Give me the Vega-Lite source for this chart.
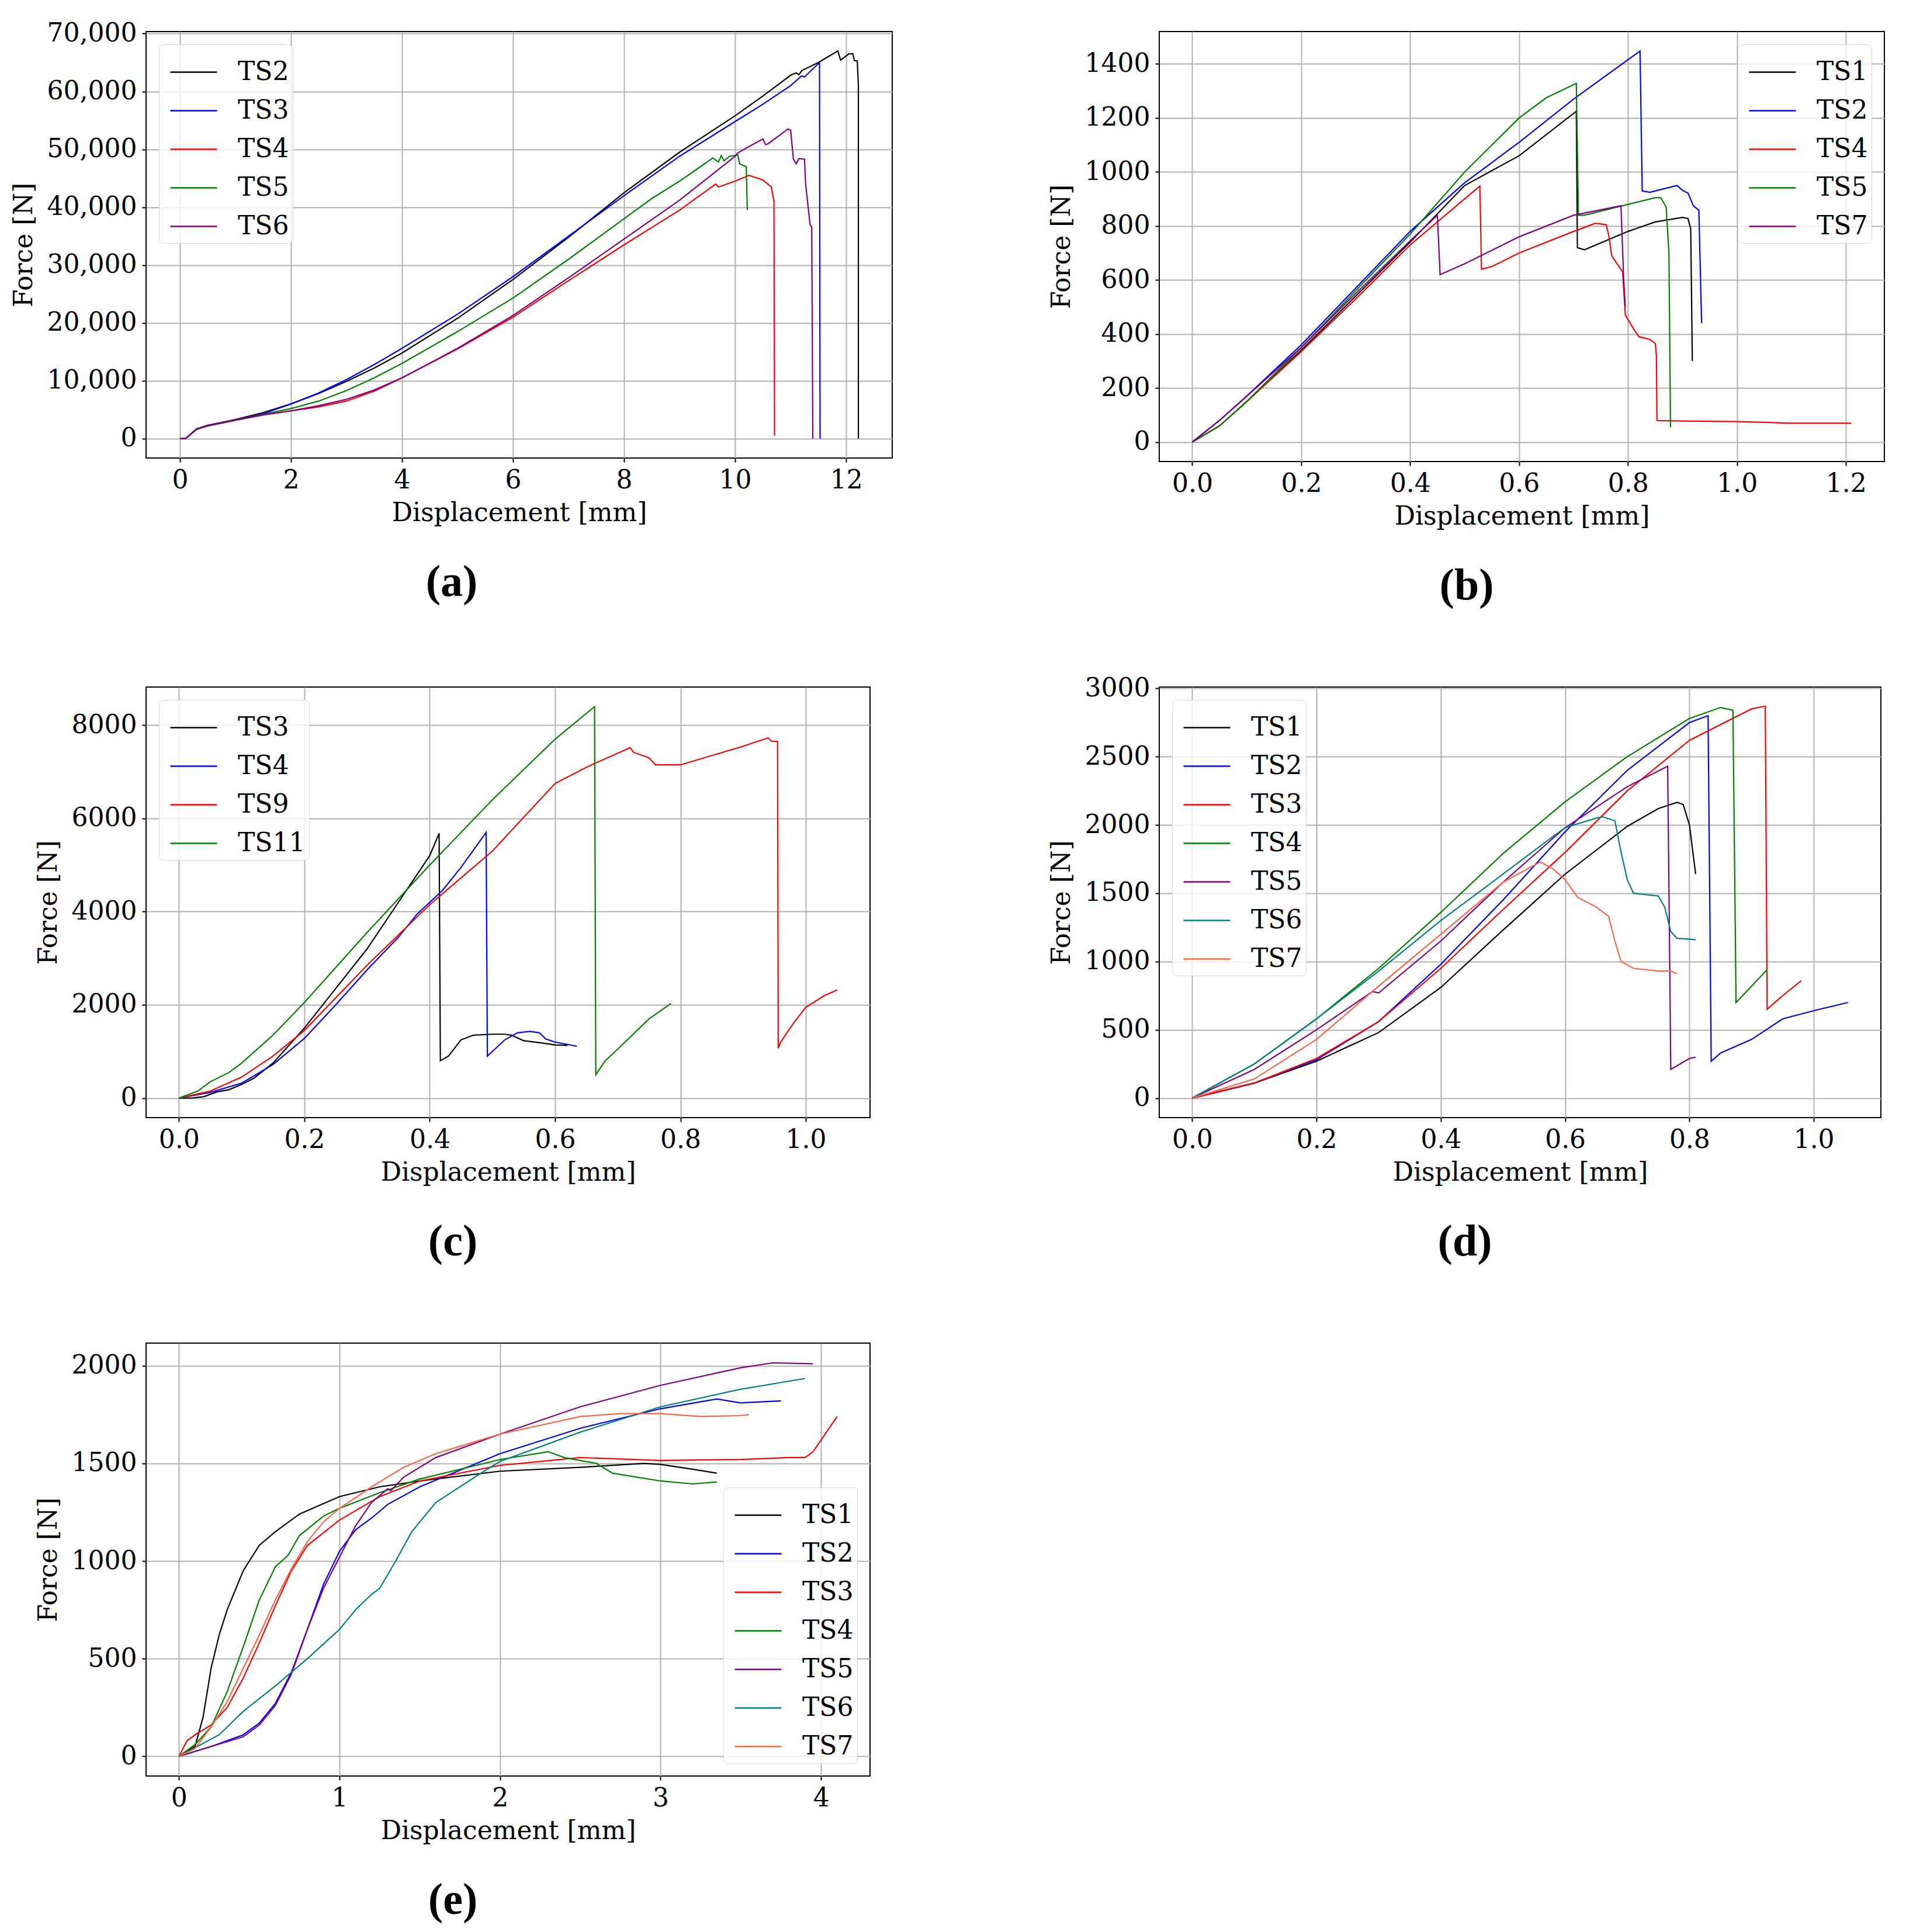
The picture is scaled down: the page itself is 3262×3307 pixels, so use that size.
{
  "$schema": "https://vega.github.io/schema/vega-lite/v6.json",
  "background": "white",
  "padding": {"left": 18, "top": 34, "right": 10, "bottom": 10},
  "datasets": {
    "a": [
      {"specimen": "TS2", "displacement": 0, "force": 0}, {"specimen": "TS2", "displacement": 0.1, "force": 0}, {"specimen": "TS2", "displacement": 0.3, "force": 1700}, {"specimen": "TS2", "displacement": 0.5, "force": 2300}, {"specimen": "TS2", "displacement": 1, "force": 3300}, {"specimen": "TS2", "displacement": 1.5, "force": 4500}, {"specimen": "TS2", "displacement": 2, "force": 6000}, {"specimen": "TS2", "displacement": 2.5, "force": 7800}, {"specimen": "TS2", "displacement": 3, "force": 9900}, {"specimen": "TS2", "displacement": 3.5, "force": 12200}, {"specimen": "TS2", "displacement": 4, "force": 14800}, {"specimen": "TS2", "displacement": 5, "force": 20800}, {"specimen": "TS2", "displacement": 6, "force": 27500}, {"specimen": "TS2", "displacement": 7, "force": 34800}, {"specimen": "TS2", "displacement": 8, "force": 42500}, {"specimen": "TS2", "displacement": 9, "force": 49500}, {"specimen": "TS2", "displacement": 10, "force": 55800}, {"specimen": "TS2", "displacement": 10.5, "force": 59200}, {"specimen": "TS2", "displacement": 11, "force": 62800}, {"specimen": "TS2", "displacement": 11.1, "force": 63200}, {"specimen": "TS2", "displacement": 11.15, "force": 62900}, {"specimen": "TS2", "displacement": 11.2, "force": 63600}, {"specimen": "TS2", "displacement": 11.5, "force": 65000}, {"specimen": "TS2", "displacement": 11.85, "force": 67000}, {"specimen": "TS2", "displacement": 11.9, "force": 65400}, {"specimen": "TS2", "displacement": 12.05, "force": 66500}, {"specimen": "TS2", "displacement": 12.12, "force": 66500}, {"specimen": "TS2", "displacement": 12.15, "force": 65300}, {"specimen": "TS2", "displacement": 12.2, "force": 65300}, {"specimen": "TS2", "displacement": 12.22, "force": 61000}, {"specimen": "TS2", "displacement": 12.22, "force": 0},
      {"specimen": "TS3", "displacement": 0, "force": 0}, {"specimen": "TS3", "displacement": 0.1, "force": 0}, {"specimen": "TS3", "displacement": 0.3, "force": 1700}, {"specimen": "TS3", "displacement": 0.5, "force": 2300}, {"specimen": "TS3", "displacement": 1, "force": 3200}, {"specimen": "TS3", "displacement": 1.5, "force": 4300}, {"specimen": "TS3", "displacement": 2, "force": 6000}, {"specimen": "TS3", "displacement": 2.5, "force": 7900}, {"specimen": "TS3", "displacement": 3, "force": 10200}, {"specimen": "TS3", "displacement": 3.5, "force": 12800}, {"specimen": "TS3", "displacement": 4, "force": 15600}, {"specimen": "TS3", "displacement": 5, "force": 21500}, {"specimen": "TS3", "displacement": 6, "force": 28000}, {"specimen": "TS3", "displacement": 7, "force": 35000}, {"specimen": "TS3", "displacement": 8, "force": 42000}, {"specimen": "TS3", "displacement": 9, "force": 48800}, {"specimen": "TS3", "displacement": 9.5, "force": 51800}, {"specimen": "TS3", "displacement": 10, "force": 54800}, {"specimen": "TS3", "displacement": 10.5, "force": 57800}, {"specimen": "TS3", "displacement": 11, "force": 61000}, {"specimen": "TS3", "displacement": 11.2, "force": 62700}, {"specimen": "TS3", "displacement": 11.25, "force": 62500}, {"specimen": "TS3", "displacement": 11.52, "force": 65000}, {"specimen": "TS3", "displacement": 11.53, "force": 0},
      {"specimen": "TS4", "displacement": 0, "force": 0}, {"specimen": "TS4", "displacement": 0.1, "force": 0}, {"specimen": "TS4", "displacement": 0.3, "force": 1600}, {"specimen": "TS4", "displacement": 0.5, "force": 2200}, {"specimen": "TS4", "displacement": 1, "force": 3200}, {"specimen": "TS4", "displacement": 1.5, "force": 4100}, {"specimen": "TS4", "displacement": 2, "force": 4800}, {"specimen": "TS4", "displacement": 2.5, "force": 5500}, {"specimen": "TS4", "displacement": 3, "force": 6500}, {"specimen": "TS4", "displacement": 3.5, "force": 8200}, {"specimen": "TS4", "displacement": 4, "force": 10500}, {"specimen": "TS4", "displacement": 5, "force": 15500}, {"specimen": "TS4", "displacement": 6, "force": 21000}, {"specimen": "TS4", "displacement": 7, "force": 27300}, {"specimen": "TS4", "displacement": 8, "force": 33500}, {"specimen": "TS4", "displacement": 9, "force": 39500}, {"specimen": "TS4", "displacement": 9.65, "force": 44000}, {"specimen": "TS4", "displacement": 9.7, "force": 43500}, {"specimen": "TS4", "displacement": 10, "force": 44500}, {"specimen": "TS4", "displacement": 10.25, "force": 45500}, {"specimen": "TS4", "displacement": 10.5, "force": 44700}, {"specimen": "TS4", "displacement": 10.65, "force": 43500}, {"specimen": "TS4", "displacement": 10.7, "force": 41000}, {"specimen": "TS4", "displacement": 10.71, "force": 500},
      {"specimen": "TS5", "displacement": 0, "force": 0}, {"specimen": "TS5", "displacement": 0.1, "force": 0}, {"specimen": "TS5", "displacement": 0.3, "force": 1700}, {"specimen": "TS5", "displacement": 0.5, "force": 2200}, {"specimen": "TS5", "displacement": 1, "force": 3200}, {"specimen": "TS5", "displacement": 1.5, "force": 4200}, {"specimen": "TS5", "displacement": 2, "force": 5200}, {"specimen": "TS5", "displacement": 2.5, "force": 6500}, {"specimen": "TS5", "displacement": 3, "force": 8300}, {"specimen": "TS5", "displacement": 3.5, "force": 10500}, {"specimen": "TS5", "displacement": 4, "force": 13000}, {"specimen": "TS5", "displacement": 5, "force": 18500}, {"specimen": "TS5", "displacement": 6, "force": 24300}, {"specimen": "TS5", "displacement": 7, "force": 31000}, {"specimen": "TS5", "displacement": 8, "force": 38000}, {"specimen": "TS5", "displacement": 8.5, "force": 41500}, {"specimen": "TS5", "displacement": 9, "force": 44500}, {"specimen": "TS5", "displacement": 9.3, "force": 46500}, {"specimen": "TS5", "displacement": 9.6, "force": 48500}, {"specimen": "TS5", "displacement": 9.7, "force": 47800}, {"specimen": "TS5", "displacement": 9.75, "force": 48900}, {"specimen": "TS5", "displacement": 9.8, "force": 48000}, {"specimen": "TS5", "displacement": 9.9, "force": 48800}, {"specimen": "TS5", "displacement": 10.05, "force": 49000}, {"specimen": "TS5", "displacement": 10.08, "force": 47500}, {"specimen": "TS5", "displacement": 10.2, "force": 47000}, {"specimen": "TS5", "displacement": 10.22, "force": 39500},
      {"specimen": "TS6", "displacement": 0, "force": 0}, {"specimen": "TS6", "displacement": 0.1, "force": 0}, {"specimen": "TS6", "displacement": 0.3, "force": 1600}, {"specimen": "TS6", "displacement": 0.5, "force": 2200}, {"specimen": "TS6", "displacement": 1, "force": 3200}, {"specimen": "TS6", "displacement": 1.5, "force": 4100}, {"specimen": "TS6", "displacement": 2, "force": 4800}, {"specimen": "TS6", "displacement": 2.5, "force": 5700}, {"specimen": "TS6", "displacement": 3, "force": 6800}, {"specimen": "TS6", "displacement": 3.5, "force": 8400}, {"specimen": "TS6", "displacement": 4, "force": 10500}, {"specimen": "TS6", "displacement": 5, "force": 15600}, {"specimen": "TS6", "displacement": 6, "force": 21300}, {"specimen": "TS6", "displacement": 7, "force": 27800}, {"specimen": "TS6", "displacement": 8, "force": 34500}, {"specimen": "TS6", "displacement": 9, "force": 41200}, {"specimen": "TS6", "displacement": 9.5, "force": 45000}, {"specimen": "TS6", "displacement": 10, "force": 48800}, {"specimen": "TS6", "displacement": 10.05, "force": 49400}, {"specimen": "TS6", "displacement": 10.5, "force": 51800}, {"specimen": "TS6", "displacement": 10.55, "force": 50800}, {"specimen": "TS6", "displacement": 10.6, "force": 51000}, {"specimen": "TS6", "displacement": 10.95, "force": 53500}, {"specimen": "TS6", "displacement": 11.0, "force": 53300}, {"specimen": "TS6", "displacement": 11.05, "force": 48300}, {"specimen": "TS6", "displacement": 11.1, "force": 47500}, {"specimen": "TS6", "displacement": 11.15, "force": 48400}, {"specimen": "TS6", "displacement": 11.25, "force": 48300}, {"specimen": "TS6", "displacement": 11.27, "force": 44000}, {"specimen": "TS6", "displacement": 11.35, "force": 37000}, {"specimen": "TS6", "displacement": 11.38, "force": 36500}, {"specimen": "TS6", "displacement": 11.4, "force": 0}
    ],
    "b": [
      {"specimen": "TS1", "displacement": 0, "force": 0}, {"specimen": "TS1", "displacement": 0.05, "force": 60}, {"specimen": "TS1", "displacement": 0.1, "force": 150}, {"specimen": "TS1", "displacement": 0.2, "force": 340}, {"specimen": "TS1", "displacement": 0.3, "force": 540}, {"specimen": "TS1", "displacement": 0.4, "force": 740}, {"specimen": "TS1", "displacement": 0.5, "force": 950}, {"specimen": "TS1", "displacement": 0.6, "force": 1060}, {"specimen": "TS1", "displacement": 0.705, "force": 1225}, {"specimen": "TS1", "displacement": 0.707, "force": 720}, {"specimen": "TS1", "displacement": 0.72, "force": 712}, {"specimen": "TS1", "displacement": 0.8, "force": 780}, {"specimen": "TS1", "displacement": 0.85, "force": 815}, {"specimen": "TS1", "displacement": 0.9, "force": 832}, {"specimen": "TS1", "displacement": 0.91, "force": 828}, {"specimen": "TS1", "displacement": 0.915, "force": 790}, {"specimen": "TS1", "displacement": 0.918, "force": 300},
      {"specimen": "TS2", "displacement": 0, "force": 0}, {"specimen": "TS2", "displacement": 0.05, "force": 80}, {"specimen": "TS2", "displacement": 0.1, "force": 170}, {"specimen": "TS2", "displacement": 0.2, "force": 360}, {"specimen": "TS2", "displacement": 0.3, "force": 570}, {"specimen": "TS2", "displacement": 0.4, "force": 780}, {"specimen": "TS2", "displacement": 0.5, "force": 960}, {"specimen": "TS2", "displacement": 0.6, "force": 1110}, {"specimen": "TS2", "displacement": 0.7, "force": 1270}, {"specimen": "TS2", "displacement": 0.822, "force": 1448}, {"specimen": "TS2", "displacement": 0.826, "force": 930}, {"specimen": "TS2", "displacement": 0.84, "force": 925}, {"specimen": "TS2", "displacement": 0.88, "force": 945}, {"specimen": "TS2", "displacement": 0.89, "force": 950}, {"specimen": "TS2", "displacement": 0.9, "force": 932}, {"specimen": "TS2", "displacement": 0.91, "force": 922}, {"specimen": "TS2", "displacement": 0.92, "force": 875}, {"specimen": "TS2", "displacement": 0.93, "force": 858}, {"specimen": "TS2", "displacement": 0.935, "force": 440},
      {"specimen": "TS4", "displacement": 0, "force": 0}, {"specimen": "TS4", "displacement": 0.05, "force": 60}, {"specimen": "TS4", "displacement": 0.1, "force": 150}, {"specimen": "TS4", "displacement": 0.2, "force": 335}, {"specimen": "TS4", "displacement": 0.3, "force": 530}, {"specimen": "TS4", "displacement": 0.4, "force": 730}, {"specimen": "TS4", "displacement": 0.528, "force": 948}, {"specimen": "TS4", "displacement": 0.531, "force": 640}, {"specimen": "TS4", "displacement": 0.55, "force": 650}, {"specimen": "TS4", "displacement": 0.6, "force": 700}, {"specimen": "TS4", "displacement": 0.7, "force": 780}, {"specimen": "TS4", "displacement": 0.74, "force": 810}, {"specimen": "TS4", "displacement": 0.76, "force": 805}, {"specimen": "TS4", "displacement": 0.765, "force": 760}, {"specimen": "TS4", "displacement": 0.77, "force": 690}, {"specimen": "TS4", "displacement": 0.78, "force": 660}, {"specimen": "TS4", "displacement": 0.79, "force": 630}, {"specimen": "TS4", "displacement": 0.795, "force": 470}, {"specimen": "TS4", "displacement": 0.81, "force": 420}, {"specimen": "TS4", "displacement": 0.82, "force": 390}, {"specimen": "TS4", "displacement": 0.84, "force": 380}, {"specimen": "TS4", "displacement": 0.85, "force": 365}, {"specimen": "TS4", "displacement": 0.852, "force": 320}, {"specimen": "TS4", "displacement": 0.853, "force": 80}, {"specimen": "TS4", "displacement": 0.9, "force": 78}, {"specimen": "TS4", "displacement": 1.0, "force": 76}, {"specimen": "TS4", "displacement": 1.05, "force": 73}, {"specimen": "TS4", "displacement": 1.1, "force": 70}, {"specimen": "TS4", "displacement": 1.21, "force": 70},
      {"specimen": "TS5", "displacement": 0, "force": 0}, {"specimen": "TS5", "displacement": 0.05, "force": 60}, {"specimen": "TS5", "displacement": 0.1, "force": 150}, {"specimen": "TS5", "displacement": 0.2, "force": 350}, {"specimen": "TS5", "displacement": 0.3, "force": 560}, {"specimen": "TS5", "displacement": 0.4, "force": 770}, {"specimen": "TS5", "displacement": 0.5, "force": 1000}, {"specimen": "TS5", "displacement": 0.6, "force": 1200}, {"specimen": "TS5", "displacement": 0.65, "force": 1275}, {"specimen": "TS5", "displacement": 0.705, "force": 1328}, {"specimen": "TS5", "displacement": 0.709, "force": 840}, {"specimen": "TS5", "displacement": 0.72, "force": 840}, {"specimen": "TS5", "displacement": 0.8, "force": 880}, {"specimen": "TS5", "displacement": 0.85, "force": 905}, {"specimen": "TS5", "displacement": 0.86, "force": 905}, {"specimen": "TS5", "displacement": 0.87, "force": 870}, {"specimen": "TS5", "displacement": 0.875, "force": 700}, {"specimen": "TS5", "displacement": 0.878, "force": 55},
      {"specimen": "TS7", "displacement": 0, "force": 0}, {"specimen": "TS7", "displacement": 0.05, "force": 80}, {"specimen": "TS7", "displacement": 0.1, "force": 170}, {"specimen": "TS7", "displacement": 0.2, "force": 350}, {"specimen": "TS7", "displacement": 0.3, "force": 550}, {"specimen": "TS7", "displacement": 0.4, "force": 745}, {"specimen": "TS7", "displacement": 0.45, "force": 840}, {"specimen": "TS7", "displacement": 0.455, "force": 620}, {"specimen": "TS7", "displacement": 0.5, "force": 660}, {"specimen": "TS7", "displacement": 0.6, "force": 760}, {"specimen": "TS7", "displacement": 0.7, "force": 840}, {"specimen": "TS7", "displacement": 0.75, "force": 860}, {"specimen": "TS7", "displacement": 0.787, "force": 875}, {"specimen": "TS7", "displacement": 0.792, "force": 600}, {"specimen": "TS7", "displacement": 0.795, "force": 500}
    ],
    "c": [
      {"specimen": "TS3", "displacement": 0, "force": 0}, {"specimen": "TS3", "displacement": 0.02, "force": 0}, {"specimen": "TS3", "displacement": 0.04, "force": 30}, {"specimen": "TS3", "displacement": 0.06, "force": 130}, {"specimen": "TS3", "displacement": 0.08, "force": 180}, {"specimen": "TS3", "displacement": 0.1, "force": 290}, {"specimen": "TS3", "displacement": 0.12, "force": 430}, {"specimen": "TS3", "displacement": 0.15, "force": 750}, {"specimen": "TS3", "displacement": 0.2, "force": 1500}, {"specimen": "TS3", "displacement": 0.25, "force": 2350}, {"specimen": "TS3", "displacement": 0.3, "force": 3200}, {"specimen": "TS3", "displacement": 0.35, "force": 4200}, {"specimen": "TS3", "displacement": 0.4, "force": 5200}, {"specimen": "TS3", "displacement": 0.415, "force": 5680}, {"specimen": "TS3", "displacement": 0.417, "force": 800}, {"specimen": "TS3", "displacement": 0.43, "force": 900}, {"specimen": "TS3", "displacement": 0.45, "force": 1250}, {"specimen": "TS3", "displacement": 0.47, "force": 1350}, {"specimen": "TS3", "displacement": 0.5, "force": 1370}, {"specimen": "TS3", "displacement": 0.52, "force": 1370}, {"specimen": "TS3", "displacement": 0.53, "force": 1350}, {"specimen": "TS3", "displacement": 0.55, "force": 1230}, {"specimen": "TS3", "displacement": 0.58, "force": 1180}, {"specimen": "TS3", "displacement": 0.6, "force": 1140}, {"specimen": "TS3", "displacement": 0.62, "force": 1130},
      {"specimen": "TS4", "displacement": 0, "force": 0}, {"specimen": "TS4", "displacement": 0.05, "force": 120}, {"specimen": "TS4", "displacement": 0.1, "force": 320}, {"specimen": "TS4", "displacement": 0.15, "force": 720}, {"specimen": "TS4", "displacement": 0.2, "force": 1280}, {"specimen": "TS4", "displacement": 0.25, "force": 2000}, {"specimen": "TS4", "displacement": 0.3, "force": 2750}, {"specimen": "TS4", "displacement": 0.35, "force": 3450}, {"specimen": "TS4", "displacement": 0.38, "force": 3950}, {"specimen": "TS4", "displacement": 0.4, "force": 4200}, {"specimen": "TS4", "displacement": 0.42, "force": 4450}, {"specimen": "TS4", "displacement": 0.45, "force": 4950}, {"specimen": "TS4", "displacement": 0.49, "force": 5700}, {"specimen": "TS4", "displacement": 0.492, "force": 900}, {"specimen": "TS4", "displacement": 0.5, "force": 1000}, {"specimen": "TS4", "displacement": 0.52, "force": 1250}, {"specimen": "TS4", "displacement": 0.54, "force": 1400}, {"specimen": "TS4", "displacement": 0.56, "force": 1430}, {"specimen": "TS4", "displacement": 0.575, "force": 1400}, {"specimen": "TS4", "displacement": 0.585, "force": 1270}, {"specimen": "TS4", "displacement": 0.6, "force": 1200}, {"specimen": "TS4", "displacement": 0.62, "force": 1150}, {"specimen": "TS4", "displacement": 0.635, "force": 1110},
      {"specimen": "TS9", "displacement": 0, "force": 0}, {"specimen": "TS9", "displacement": 0.05, "force": 150}, {"specimen": "TS9", "displacement": 0.1, "force": 450}, {"specimen": "TS9", "displacement": 0.15, "force": 900}, {"specimen": "TS9", "displacement": 0.2, "force": 1450}, {"specimen": "TS9", "displacement": 0.3, "force": 2850}, {"specimen": "TS9", "displacement": 0.4, "force": 4150}, {"specimen": "TS9", "displacement": 0.5, "force": 5300}, {"specimen": "TS9", "displacement": 0.6, "force": 6750}, {"specimen": "TS9", "displacement": 0.65, "force": 7100}, {"specimen": "TS9", "displacement": 0.7, "force": 7400}, {"specimen": "TS9", "displacement": 0.72, "force": 7520}, {"specimen": "TS9", "displacement": 0.725, "force": 7420}, {"specimen": "TS9", "displacement": 0.75, "force": 7300}, {"specimen": "TS9", "displacement": 0.76, "force": 7150}, {"specimen": "TS9", "displacement": 0.8, "force": 7150}, {"specimen": "TS9", "displacement": 0.85, "force": 7350}, {"specimen": "TS9", "displacement": 0.9, "force": 7550}, {"specimen": "TS9", "displacement": 0.94, "force": 7730}, {"specimen": "TS9", "displacement": 0.945, "force": 7660}, {"specimen": "TS9", "displacement": 0.955, "force": 7650}, {"specimen": "TS9", "displacement": 0.956, "force": 1070}, {"specimen": "TS9", "displacement": 0.96, "force": 1200}, {"specimen": "TS9", "displacement": 0.98, "force": 1600}, {"specimen": "TS9", "displacement": 1.0, "force": 1950}, {"specimen": "TS9", "displacement": 1.03, "force": 2200}, {"specimen": "TS9", "displacement": 1.05, "force": 2320},
      {"specimen": "TS11", "displacement": 0, "force": 0}, {"specimen": "TS11", "displacement": 0.03, "force": 150}, {"specimen": "TS11", "displacement": 0.05, "force": 350}, {"specimen": "TS11", "displacement": 0.08, "force": 550}, {"specimen": "TS11", "displacement": 0.1, "force": 750}, {"specimen": "TS11", "displacement": 0.15, "force": 1350}, {"specimen": "TS11", "displacement": 0.2, "force": 2050}, {"specimen": "TS11", "displacement": 0.3, "force": 3550}, {"specimen": "TS11", "displacement": 0.4, "force": 5000}, {"specimen": "TS11", "displacement": 0.5, "force": 6400}, {"specimen": "TS11", "displacement": 0.6, "force": 7700}, {"specimen": "TS11", "displacement": 0.663, "force": 8400}, {"specimen": "TS11", "displacement": 0.665, "force": 500}, {"specimen": "TS11", "displacement": 0.68, "force": 800}, {"specimen": "TS11", "displacement": 0.7, "force": 1050}, {"specimen": "TS11", "displacement": 0.75, "force": 1700}, {"specimen": "TS11", "displacement": 0.785, "force": 2030}
    ],
    "d": [
      {"specimen": "TS1", "displacement": 0, "force": 0}, {"specimen": "TS1", "displacement": 0.1, "force": 110}, {"specimen": "TS1", "displacement": 0.2, "force": 270}, {"specimen": "TS1", "displacement": 0.3, "force": 480}, {"specimen": "TS1", "displacement": 0.4, "force": 810}, {"specimen": "TS1", "displacement": 0.5, "force": 1230}, {"specimen": "TS1", "displacement": 0.6, "force": 1640}, {"specimen": "TS1", "displacement": 0.7, "force": 1990}, {"specimen": "TS1", "displacement": 0.75, "force": 2120}, {"specimen": "TS1", "displacement": 0.78, "force": 2165}, {"specimen": "TS1", "displacement": 0.79, "force": 2150}, {"specimen": "TS1", "displacement": 0.8, "force": 2000}, {"specimen": "TS1", "displacement": 0.81, "force": 1640},
      {"specimen": "TS2", "displacement": 0, "force": 0}, {"specimen": "TS2", "displacement": 0.1, "force": 110}, {"specimen": "TS2", "displacement": 0.2, "force": 280}, {"specimen": "TS2", "displacement": 0.3, "force": 560}, {"specimen": "TS2", "displacement": 0.4, "force": 980}, {"specimen": "TS2", "displacement": 0.5, "force": 1450}, {"specimen": "TS2", "displacement": 0.6, "force": 1950}, {"specimen": "TS2", "displacement": 0.7, "force": 2400}, {"specimen": "TS2", "displacement": 0.8, "force": 2750}, {"specimen": "TS2", "displacement": 0.83, "force": 2800}, {"specimen": "TS2", "displacement": 0.835, "force": 270}, {"specimen": "TS2", "displacement": 0.85, "force": 330}, {"specimen": "TS2", "displacement": 0.9, "force": 430}, {"specimen": "TS2", "displacement": 0.95, "force": 580}, {"specimen": "TS2", "displacement": 1.0, "force": 640}, {"specimen": "TS2", "displacement": 1.055, "force": 700},
      {"specimen": "TS3", "displacement": 0, "force": 0}, {"specimen": "TS3", "displacement": 0.1, "force": 110}, {"specimen": "TS3", "displacement": 0.2, "force": 290}, {"specimen": "TS3", "displacement": 0.3, "force": 560}, {"specimen": "TS3", "displacement": 0.4, "force": 950}, {"specimen": "TS3", "displacement": 0.5, "force": 1380}, {"specimen": "TS3", "displacement": 0.6, "force": 1800}, {"specimen": "TS3", "displacement": 0.7, "force": 2250}, {"specimen": "TS3", "displacement": 0.8, "force": 2620}, {"specimen": "TS3", "displacement": 0.9, "force": 2850}, {"specimen": "TS3", "displacement": 0.922, "force": 2870}, {"specimen": "TS3", "displacement": 0.925, "force": 650}, {"specimen": "TS3", "displacement": 0.95, "force": 750}, {"specimen": "TS3", "displacement": 0.98, "force": 860},
      {"specimen": "TS4", "displacement": 0, "force": 0}, {"specimen": "TS4", "displacement": 0.1, "force": 250}, {"specimen": "TS4", "displacement": 0.2, "force": 580}, {"specimen": "TS4", "displacement": 0.3, "force": 950}, {"specimen": "TS4", "displacement": 0.4, "force": 1360}, {"specimen": "TS4", "displacement": 0.5, "force": 1790}, {"specimen": "TS4", "displacement": 0.6, "force": 2170}, {"specimen": "TS4", "displacement": 0.7, "force": 2500}, {"specimen": "TS4", "displacement": 0.8, "force": 2780}, {"specimen": "TS4", "displacement": 0.85, "force": 2860}, {"specimen": "TS4", "displacement": 0.87, "force": 2840}, {"specimen": "TS4", "displacement": 0.875, "force": 700}, {"specimen": "TS4", "displacement": 0.9, "force": 820}, {"specimen": "TS4", "displacement": 0.925, "force": 940},
      {"specimen": "TS5", "displacement": 0, "force": 0}, {"specimen": "TS5", "displacement": 0.1, "force": 210}, {"specimen": "TS5", "displacement": 0.2, "force": 500}, {"specimen": "TS5", "displacement": 0.29, "force": 780}, {"specimen": "TS5", "displacement": 0.3, "force": 770}, {"specimen": "TS5", "displacement": 0.4, "force": 1150}, {"specimen": "TS5", "displacement": 0.5, "force": 1580}, {"specimen": "TS5", "displacement": 0.6, "force": 1980}, {"specimen": "TS5", "displacement": 0.7, "force": 2280}, {"specimen": "TS5", "displacement": 0.765, "force": 2430}, {"specimen": "TS5", "displacement": 0.77, "force": 210}, {"specimen": "TS5", "displacement": 0.8, "force": 290}, {"specimen": "TS5", "displacement": 0.81, "force": 300},
      {"specimen": "TS6", "displacement": 0, "force": 0}, {"specimen": "TS6", "displacement": 0.1, "force": 250}, {"specimen": "TS6", "displacement": 0.2, "force": 580}, {"specimen": "TS6", "displacement": 0.3, "force": 930}, {"specimen": "TS6", "displacement": 0.4, "force": 1300}, {"specimen": "TS6", "displacement": 0.5, "force": 1640}, {"specimen": "TS6", "displacement": 0.57, "force": 1880}, {"specimen": "TS6", "displacement": 0.6, "force": 1980}, {"specimen": "TS6", "displacement": 0.65, "force": 2050}, {"specimen": "TS6", "displacement": 0.66, "force": 2060}, {"specimen": "TS6", "displacement": 0.68, "force": 2030}, {"specimen": "TS6", "displacement": 0.69, "force": 1800}, {"specimen": "TS6", "displacement": 0.7, "force": 1600}, {"specimen": "TS6", "displacement": 0.71, "force": 1500}, {"specimen": "TS6", "displacement": 0.73, "force": 1490}, {"specimen": "TS6", "displacement": 0.75, "force": 1480}, {"specimen": "TS6", "displacement": 0.76, "force": 1400}, {"specimen": "TS6", "displacement": 0.77, "force": 1220}, {"specimen": "TS6", "displacement": 0.78, "force": 1170}, {"specimen": "TS6", "displacement": 0.81, "force": 1160},
      {"specimen": "TS7", "displacement": 0, "force": 0}, {"specimen": "TS7", "displacement": 0.1, "force": 140}, {"specimen": "TS7", "displacement": 0.2, "force": 430}, {"specimen": "TS7", "displacement": 0.3, "force": 820}, {"specimen": "TS7", "displacement": 0.4, "force": 1200}, {"specimen": "TS7", "displacement": 0.5, "force": 1580}, {"specimen": "TS7", "displacement": 0.56, "force": 1730}, {"specimen": "TS7", "displacement": 0.58, "force": 1680}, {"specimen": "TS7", "displacement": 0.6, "force": 1600}, {"specimen": "TS7", "displacement": 0.62, "force": 1470}, {"specimen": "TS7", "displacement": 0.65, "force": 1400}, {"specimen": "TS7", "displacement": 0.67, "force": 1330}, {"specimen": "TS7", "displacement": 0.68, "force": 1150}, {"specimen": "TS7", "displacement": 0.69, "force": 1000}, {"specimen": "TS7", "displacement": 0.71, "force": 950}, {"specimen": "TS7", "displacement": 0.75, "force": 930}, {"specimen": "TS7", "displacement": 0.77, "force": 930}, {"specimen": "TS7", "displacement": 0.78, "force": 910}
    ],
    "e": [
      {"specimen": "TS1", "displacement": 0, "force": 0}, {"specimen": "TS1", "displacement": 0.1, "force": 50}, {"specimen": "TS1", "displacement": 0.15, "force": 200}, {"specimen": "TS1", "displacement": 0.2, "force": 450}, {"specimen": "TS1", "displacement": 0.25, "force": 620}, {"specimen": "TS1", "displacement": 0.3, "force": 750}, {"specimen": "TS1", "displacement": 0.4, "force": 950}, {"specimen": "TS1", "displacement": 0.5, "force": 1080}, {"specimen": "TS1", "displacement": 0.6, "force": 1150}, {"specimen": "TS1", "displacement": 0.75, "force": 1240}, {"specimen": "TS1", "displacement": 1.0, "force": 1330}, {"specimen": "TS1", "displacement": 1.25, "force": 1380}, {"specimen": "TS1", "displacement": 1.5, "force": 1410}, {"specimen": "TS1", "displacement": 2.0, "force": 1460}, {"specimen": "TS1", "displacement": 2.5, "force": 1480}, {"specimen": "TS1", "displacement": 2.9, "force": 1500}, {"specimen": "TS1", "displacement": 3.0, "force": 1495}, {"specimen": "TS1", "displacement": 3.2, "force": 1470}, {"specimen": "TS1", "displacement": 3.35, "force": 1450},
      {"specimen": "TS2", "displacement": 0, "force": 0}, {"specimen": "TS2", "displacement": 0.2, "force": 50}, {"specimen": "TS2", "displacement": 0.4, "force": 110}, {"specimen": "TS2", "displacement": 0.5, "force": 170}, {"specimen": "TS2", "displacement": 0.6, "force": 270}, {"specimen": "TS2", "displacement": 0.7, "force": 430}, {"specimen": "TS2", "displacement": 0.8, "force": 650}, {"specimen": "TS2", "displacement": 0.9, "force": 880}, {"specimen": "TS2", "displacement": 1.0, "force": 1050}, {"specimen": "TS2", "displacement": 1.1, "force": 1160}, {"specimen": "TS2", "displacement": 1.2, "force": 1220}, {"specimen": "TS2", "displacement": 1.3, "force": 1290}, {"specimen": "TS2", "displacement": 1.5, "force": 1380}, {"specimen": "TS2", "displacement": 2.0, "force": 1550}, {"specimen": "TS2", "displacement": 2.5, "force": 1680}, {"specimen": "TS2", "displacement": 3.0, "force": 1780}, {"specimen": "TS2", "displacement": 3.35, "force": 1830}, {"specimen": "TS2", "displacement": 3.5, "force": 1810}, {"specimen": "TS2", "displacement": 3.75, "force": 1820},
      {"specimen": "TS3", "displacement": 0, "force": 0}, {"specimen": "TS3", "displacement": 0.05, "force": 80}, {"specimen": "TS3", "displacement": 0.1, "force": 110}, {"specimen": "TS3", "displacement": 0.2, "force": 160}, {"specimen": "TS3", "displacement": 0.3, "force": 250}, {"specimen": "TS3", "displacement": 0.4, "force": 400}, {"specimen": "TS3", "displacement": 0.5, "force": 580}, {"specimen": "TS3", "displacement": 0.6, "force": 770}, {"specimen": "TS3", "displacement": 0.7, "force": 950}, {"specimen": "TS3", "displacement": 0.8, "force": 1080}, {"specimen": "TS3", "displacement": 1.0, "force": 1210}, {"specimen": "TS3", "displacement": 1.25, "force": 1330}, {"specimen": "TS3", "displacement": 1.5, "force": 1410}, {"specimen": "TS3", "displacement": 2.0, "force": 1490}, {"specimen": "TS3", "displacement": 2.5, "force": 1530}, {"specimen": "TS3", "displacement": 3.0, "force": 1515}, {"specimen": "TS3", "displacement": 3.5, "force": 1520}, {"specimen": "TS3", "displacement": 3.8, "force": 1530}, {"specimen": "TS3", "displacement": 3.9, "force": 1530}, {"specimen": "TS3", "displacement": 3.95, "force": 1560}, {"specimen": "TS3", "displacement": 4.0, "force": 1620}, {"specimen": "TS3", "displacement": 4.1, "force": 1740},
      {"specimen": "TS4", "displacement": 0, "force": 0}, {"specimen": "TS4", "displacement": 0.1, "force": 60}, {"specimen": "TS4", "displacement": 0.2, "force": 150}, {"specimen": "TS4", "displacement": 0.3, "force": 330}, {"specimen": "TS4", "displacement": 0.4, "force": 560}, {"specimen": "TS4", "displacement": 0.5, "force": 800}, {"specimen": "TS4", "displacement": 0.6, "force": 970}, {"specimen": "TS4", "displacement": 0.68, "force": 1030}, {"specimen": "TS4", "displacement": 0.75, "force": 1130}, {"specimen": "TS4", "displacement": 0.9, "force": 1230}, {"specimen": "TS4", "displacement": 1.0, "force": 1270}, {"specimen": "TS4", "displacement": 1.25, "force": 1350}, {"specimen": "TS4", "displacement": 1.5, "force": 1420}, {"specimen": "TS4", "displacement": 2.0, "force": 1520}, {"specimen": "TS4", "displacement": 2.3, "force": 1560}, {"specimen": "TS4", "displacement": 2.4, "force": 1530}, {"specimen": "TS4", "displacement": 2.6, "force": 1500}, {"specimen": "TS4", "displacement": 2.7, "force": 1450}, {"specimen": "TS4", "displacement": 3.0, "force": 1410}, {"specimen": "TS4", "displacement": 3.2, "force": 1395}, {"specimen": "TS4", "displacement": 3.35, "force": 1405},
      {"specimen": "TS5", "displacement": 0, "force": 0}, {"specimen": "TS5", "displacement": 0.2, "force": 50}, {"specimen": "TS5", "displacement": 0.4, "force": 100}, {"specimen": "TS5", "displacement": 0.5, "force": 160}, {"specimen": "TS5", "displacement": 0.6, "force": 260}, {"specimen": "TS5", "displacement": 0.7, "force": 420}, {"specimen": "TS5", "displacement": 0.8, "force": 650}, {"specimen": "TS5", "displacement": 0.9, "force": 860}, {"specimen": "TS5", "displacement": 1.0, "force": 1020}, {"specimen": "TS5", "displacement": 1.1, "force": 1180}, {"specimen": "TS5", "displacement": 1.2, "force": 1300}, {"specimen": "TS5", "displacement": 1.3, "force": 1370}, {"specimen": "TS5", "displacement": 1.32, "force": 1360}, {"specimen": "TS5", "displacement": 1.4, "force": 1430}, {"specimen": "TS5", "displacement": 1.6, "force": 1530}, {"specimen": "TS5", "displacement": 2.0, "force": 1650}, {"specimen": "TS5", "displacement": 2.5, "force": 1790}, {"specimen": "TS5", "displacement": 3.0, "force": 1900}, {"specimen": "TS5", "displacement": 3.5, "force": 1990}, {"specimen": "TS5", "displacement": 3.7, "force": 2015}, {"specimen": "TS5", "displacement": 3.95, "force": 2010},
      {"specimen": "TS6", "displacement": 0, "force": 0}, {"specimen": "TS6", "displacement": 0.25, "force": 110}, {"specimen": "TS6", "displacement": 0.4, "force": 230}, {"specimen": "TS6", "displacement": 0.6, "force": 360}, {"specimen": "TS6", "displacement": 0.8, "force": 500}, {"specimen": "TS6", "displacement": 1.0, "force": 650}, {"specimen": "TS6", "displacement": 1.1, "force": 750}, {"specimen": "TS6", "displacement": 1.2, "force": 830}, {"specimen": "TS6", "displacement": 1.25, "force": 860}, {"specimen": "TS6", "displacement": 1.35, "force": 1000}, {"specimen": "TS6", "displacement": 1.45, "force": 1150}, {"specimen": "TS6", "displacement": 1.6, "force": 1300}, {"specimen": "TS6", "displacement": 1.75, "force": 1380}, {"specimen": "TS6", "displacement": 1.9, "force": 1460}, {"specimen": "TS6", "displacement": 2.0, "force": 1510}, {"specimen": "TS6", "displacement": 2.5, "force": 1660}, {"specimen": "TS6", "displacement": 3.0, "force": 1790}, {"specimen": "TS6", "displacement": 3.5, "force": 1880}, {"specimen": "TS6", "displacement": 3.9, "force": 1935},
      {"specimen": "TS7", "displacement": 0, "force": 0}, {"specimen": "TS7", "displacement": 0.1, "force": 40}, {"specimen": "TS7", "displacement": 0.2, "force": 150}, {"specimen": "TS7", "displacement": 0.3, "force": 280}, {"specimen": "TS7", "displacement": 0.4, "force": 450}, {"specimen": "TS7", "displacement": 0.5, "force": 620}, {"specimen": "TS7", "displacement": 0.6, "force": 800}, {"specimen": "TS7", "displacement": 0.7, "force": 960}, {"specimen": "TS7", "displacement": 0.8, "force": 1100}, {"specimen": "TS7", "displacement": 0.9, "force": 1200}, {"specimen": "TS7", "displacement": 1.0, "force": 1270}, {"specimen": "TS7", "displacement": 1.2, "force": 1380}, {"specimen": "TS7", "displacement": 1.4, "force": 1480}, {"specimen": "TS7", "displacement": 1.6, "force": 1550}, {"specimen": "TS7", "displacement": 2.0, "force": 1650}, {"specimen": "TS7", "displacement": 2.5, "force": 1740}, {"specimen": "TS7", "displacement": 2.75, "force": 1755}, {"specimen": "TS7", "displacement": 3.0, "force": 1755}, {"specimen": "TS7", "displacement": 3.25, "force": 1740}, {"specimen": "TS7", "displacement": 3.5, "force": 1745}, {"specimen": "TS7", "displacement": 3.55, "force": 1750}
    ]
  },
  "columns": 2,
  "bounds": "flush",
  "spacing": {"row": 386, "column": 457},
  "resolve": {"scale": {"color": "independent"}, "legend": {"color": "independent"}},
  "concat": [
    {
      "width": 1277, "height": 730,
      "data": {"name": "a"},
      "title": {"text": "(a)"},
      "mark": {"type": "line", "strokeWidth": 2.2, "clip": true},
      "encoding": {
        "x": {"field": "displacement", "type": "quantitative", "scale": {"domain": [-0.61, 12.83], "nice": false, "zero": false}, "axis": {"title": "Displacement [mm]", "format": "d", "values": [0, 2, 4, 6, 8, 10, 12]}},
        "y": {"field": "force", "type": "quantitative", "scale": {"domain": [-3350, 70350], "nice": false, "zero": false}, "axis": {"title": "Force [N]", "format": ",d", "values": [0, 10000, 20000, 30000, 40000, 50000, 60000, 70000]}},
        "color": {"field": "specimen", "type": "nominal", "scale": {"domain": ["TS2", "TS3", "TS4", "TS5", "TS6"], "range": ["#000000", "#0000ff", "#ff0000", "#008000", "#800080"]}, "legend": {"orient": "top-left"}},
        "order": {"value": null}
      }
    },
    {
      "width": 1241, "height": 736,
      "data": {"name": "b"},
      "title": {"text": "(b)"},
      "mark": {"type": "line", "strokeWidth": 2.2, "clip": true},
      "encoding": {
        "x": {"field": "displacement", "type": "quantitative", "scale": {"domain": [-0.0605, 1.2705], "nice": false, "zero": false}, "axis": {"title": "Displacement [mm]", "format": ".1f", "values": [0, 0.2, 0.4, 0.6, 0.8, 1.0, 1.2]}},
        "y": {"field": "force", "type": "quantitative", "scale": {"domain": [-72, 1520], "nice": false, "zero": false}, "axis": {"title": "Force [N]", "format": "d", "values": [0, 200, 400, 600, 800, 1000, 1200, 1400]}},
        "color": {"field": "specimen", "type": "nominal", "scale": {"domain": ["TS1", "TS2", "TS4", "TS5", "TS7"], "range": ["#000000", "#0000ff", "#ff0000", "#008000", "#800080"]}, "legend": {"orient": "top-right"}},
        "order": {"value": null}
      }
    },
    {
      "width": 1239, "height": 737,
      "data": {"name": "c"},
      "title": {"text": "(c)"},
      "mark": {"type": "line", "strokeWidth": 2.2, "clip": true},
      "encoding": {
        "x": {"field": "displacement", "type": "quantitative", "scale": {"domain": [-0.0525, 1.1025], "nice": false, "zero": false}, "axis": {"title": "Displacement [mm]", "format": ".1f", "values": [0, 0.2, 0.4, 0.6, 0.8, 1.0]}},
        "y": {"field": "force", "type": "quantitative", "scale": {"domain": [-420, 8820], "nice": false, "zero": false}, "axis": {"title": "Force [N]", "format": "d", "values": [0, 2000, 4000, 6000, 8000]}},
        "color": {"field": "specimen", "type": "nominal", "scale": {"domain": ["TS3", "TS4", "TS9", "TS11"], "range": ["#000000", "#0000ff", "#ff0000", "#008000"]}, "legend": {"orient": "top-left"}},
        "order": {"value": null}
      }
    },
    {
      "width": 1235, "height": 737,
      "data": {"name": "d"},
      "title": {"text": "(d)"},
      "mark": {"type": "line", "strokeWidth": 2.2, "clip": true},
      "encoding": {
        "x": {"field": "displacement", "type": "quantitative", "scale": {"domain": [-0.053, 1.108], "nice": false, "zero": false}, "axis": {"title": "Displacement [mm]", "format": ".1f", "values": [0, 0.2, 0.4, 0.6, 0.8, 1.0]}},
        "y": {"field": "force", "type": "quantitative", "scale": {"domain": [-143, 3010], "nice": false, "zero": false}, "axis": {"title": "Force [N]", "format": "d", "values": [0, 500, 1000, 1500, 2000, 2500, 3000]}},
        "color": {"field": "specimen", "type": "nominal", "scale": {"domain": ["TS1", "TS2", "TS3", "TS4", "TS5", "TS6", "TS7"], "range": ["#000000", "#0000ff", "#ff0000", "#008000", "#800080", "#008080", "#ff6347"]}, "legend": {"orient": "top-left"}},
        "order": {"value": null}
      }
    },
    {
      "width": 1239, "height": 741,
      "data": {"name": "e"},
      "title": {"text": "(e)"},
      "mark": {"type": "line", "strokeWidth": 2.2, "clip": true},
      "encoding": {
        "x": {"field": "displacement", "type": "quantitative", "scale": {"domain": [-0.205, 4.305], "nice": false, "zero": false}, "axis": {"title": "Displacement [mm]", "format": "d", "values": [0, 1, 2, 3, 4]}},
        "y": {"field": "force", "type": "quantitative", "scale": {"domain": [-101, 2116], "nice": false, "zero": false}, "axis": {"title": "Force [N]", "format": "d", "values": [0, 500, 1000, 1500, 2000]}},
        "color": {"field": "specimen", "type": "nominal", "scale": {"domain": ["TS1", "TS2", "TS3", "TS4", "TS5", "TS6", "TS7"], "range": ["#000000", "#0000ff", "#ff0000", "#008000", "#800080", "#008080", "#ff6347"]}, "legend": {"orient": "bottom-right"}},
        "order": {"value": null}
      }
    }
  ],
  "config": {
    "font": "DejaVu Serif",
    "view": {"stroke": "#000000", "strokeWidth": 2},
    "axis": {
      "domain": false,
      "grid": true,
      "gridColor": "#b0b0b0",
      "gridWidth": 2,
      "ticks": true,
      "tickColor": "#000000",
      "tickSize": 7,
      "tickWidth": 2,
      "labelFont": "DejaVu Serif",
      "labelFontSize": 44,
      "labelColor": "#000000",
      "labelPadding": 9,
      "labelOverlap": false,
      "labelFlush": false,
      "titleFont": "DejaVu Serif",
      "titleFontSize": 44,
      "titleFontWeight": "normal",
      "titleColor": "#000000"
    },
    "axisX": {"titlePadding": 12},
    "axisY": {"titlePadding": 17},
    "legend": {
      "title": null,
      "symbolType": "stroke",
      "symbolSize": 6400,
      "symbolStrokeWidth": 2.5,
      "symbolOffset": 12,
      "labelFont": "DejaVu Serif",
      "labelFontSize": 44,
      "labelColor": "#000000",
      "labelOffset": 34,
      "rowPadding": 2,
      "padding": 6,
      "offset": 22,
      "strokeColor": "#d6d6d6",
      "fillColor": "rgba(255,255,255,0.8)",
      "cornerRadius": 8
    },
    "title": {
      "orient": "bottom",
      "anchor": "middle",
      "frame": "bounds",
      "font": "Liberation Serif",
      "fontSize": 76,
      "fontWeight": "bold",
      "color": "#000000",
      "offset": 60
    }
  }
}
